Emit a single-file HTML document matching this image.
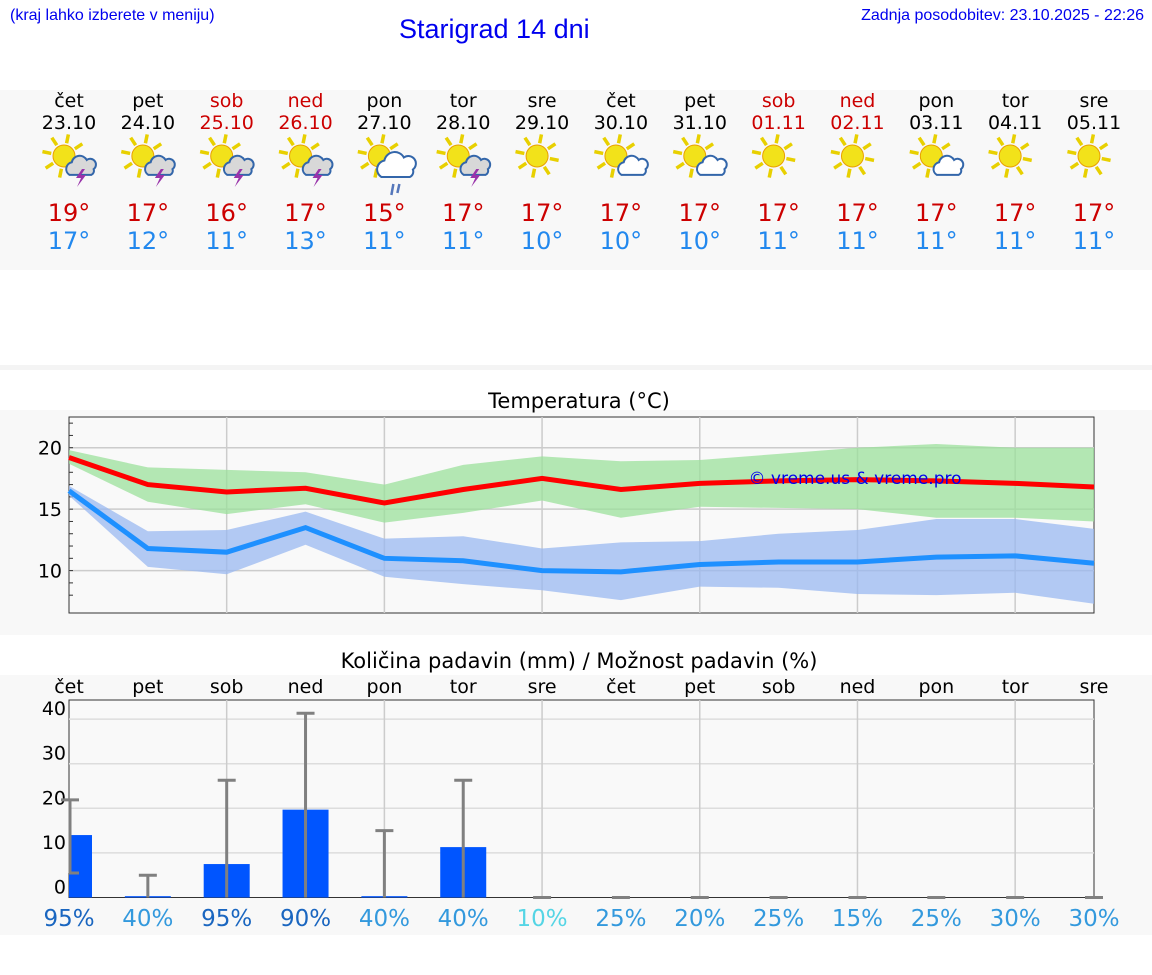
<!DOCTYPE html>
<html><head><meta charset="utf-8"><style>
body{margin:0;width:1152px;height:975px;background:#fff;font-family:"DejaVu Sans","Liberation Sans",sans-serif;position:relative;overflow:hidden}
.a{position:absolute}
</style></head><body>
<div class="a" style="left:10px;top:7px;font-size:16px;color:#0000ee;font-family:'Liberation Sans',sans-serif">(kraj lahko izberete v meniju)</div>
<div class="a" style="left:399px;top:14px;font-size:27px;color:#0000ee;font-family:'Liberation Sans',sans-serif">Starigrad 14 dni</div>
<div class="a" style="right:8px;top:7px;font-size:16px;color:#0000ee;font-family:'Liberation Sans',sans-serif">Zadnja posodobitev: 23.10.2025 - 22:26</div>
<div class="a" style="left:0;top:90px;width:1152px;height:180px;background:#f8f8f8"></div>
<div class="a" style="left:0;top:365px;width:1152px;height:5px;background:#f4f4f4"></div>
<div class="a" style="left:0;top:410px;width:1152px;height:225px;background:#f8f8f8"></div>
<div class="a" style="left:0;top:675px;width:1152px;height:260px;background:#f8f8f8"></div>
<svg class="a" style="left:0;top:0" width="1152" height="975" id="svg"></svg>
<script>
const days=["čet","pet","sob","ned","pon","tor","sre","čet","pet","sob","ned","pon","tor","sre"];
const dates=["23.10","24.10","25.10","26.10","27.10","28.10","29.10","30.10","31.10","01.11","02.11","03.11","04.11","05.11"];
const weekend=[0,0,1,1,0,0,0,0,0,1,1,0,0,0];
const icons=["storm","storm","storm","storm","rain","storm","sun","cloud","cloud","sun","sun","cloud","sun","sun"];
const tmax=[19,17,16,17,15,17,17,17,17,17,17,17,17,17];
const tmin=[17,12,11,13,11,11,10,10,10,11,11,11,11,11];
const maxLine=[19.2,17,16.4,16.7,15.5,16.6,17.5,16.6,17.1,17.3,17.4,17.3,17.1,16.8];
const maxLo=[18.7,15.6,14.6,15.4,13.9,14.7,15.7,14.3,15.2,15.1,15.0,14.3,14.3,14.0];
const maxHi=[19.8,18.4,18.2,18.0,17.0,18.6,19.3,18.9,19.0,19.5,20.0,20.3,20.0,20.0];
const minLine=[16.5,11.8,11.5,13.5,11.0,10.8,10.0,9.9,10.5,10.7,10.7,11.1,11.2,10.6];
const minLo=[16.1,10.3,9.7,12.1,9.5,8.9,8.4,7.6,8.7,8.6,8.1,8.0,8.2,7.3];
const minHi=[16.9,13.2,13.3,14.8,12.6,12.8,11.8,12.3,12.4,13.0,13.3,14.2,14.2,13.4];
const precip=[14,0.3,7.5,19.7,0.3,11.3,0,0,0,0,0,0,0,0];
const errLo=[5.5,0,0,0,0,0,0,0,0,0,0,0,0,0];
const errHi=[21.9,5,26.3,41.3,15,26.3,0,0,0,0,0,0,0,0];
const prob=[95,40,95,90,40,40,10,25,20,25,15,25,30,30];
const tTicks=[10,15,20];
const pTicks=[0,10,20,30,40];
const NS="http://www.w3.org/2000/svg";
const svg=document.getElementById('svg');
function el(t,a,p){const e=document.createElementNS(NS,t);for(const k in a)e.setAttribute(k,a[k]);(p||svg).appendChild(e);return e;}
function txt(x,y,s,size,fill,anchor,name){const e=el('text',{x:x,y:y,'font-size':size,fill:fill,'text-anchor':anchor||'middle','font-family':'DejaVu Sans, Liberation Sans, sans-serif'});e.textContent=s;


return e;}
const X0=69,X1=1094;
const xs=i=>X0+i*(X1-X0)/(days.length-1);
days.forEach((d,i)=>{const x=xs(i);const c=weekend[i]?'#cc0000':'#000';
txt(x,107,d,19,c,'middle','day-label');txt(x,129,dates[i],19,c,'middle','date-label');
txt(x,221,tmax[i]+'°',24,'#cc0000','middle','max-temp');txt(x,249,tmin[i]+'°',24,'#2288ee','middle','min-temp');
const g=el('g',{});
const sx=x-5,sy=156;
for(let k=0;k<8;k++){const a=k*Math.PI/4+0.2;el('line',{x1:sx+Math.cos(a)*13,y1:sy+Math.sin(a)*13,x2:sx+Math.cos(a)*22,y2:sy+Math.sin(a)*22,stroke:'#e8d000','stroke-width':3.5},g);}
el('circle',{cx:sx,cy:sy,r:11,fill:'#f2e21a',stroke:'#e8a000','stroke-width':1},g);
if(icons[i]!='sun'){const cx=x+12,cy=168;const big=icons[i]=='rain';const s=big?1.5:1.15;
el('path',{d:`M${cx-10*s} ${cy+6*s} a${6*s} ${6*s} 0 0 1 ${2*s} ${-11*s} a${7*s} ${7*s} 0 0 1 ${13*s} ${-2*s} a${5*s} ${5*s} 0 0 1 ${6*s} ${8*s} a${4*s} ${4*s} 0 0 1 ${-2*s} ${5*s} z`,fill:icons[i]=='storm'?'#d8d8d8':'#fff',stroke:'#3366aa','stroke-width':2},g);
if(icons[i]=='storm')el('path',{d:`M${cx+1} ${cy+1} l-6 9 h5 l-4 9 l9 -12 h-5 l4 -6z`,fill:'#9933aa'},g);
if(big){el('line',{x1:cx-3,y1:cy+16,x2:cx-5,y2:cy+27,stroke:'#5577bb','stroke-width':2.5},g);el('line',{x1:cx+3,y1:cy+16,x2:cx+1,y2:cy+25,stroke:'#5577bb','stroke-width':2.5},g);}}
});
txt(579,408,'Temperatura (°C)',21,'#000','middle','temp-chart-title');
const TY0=417,TY1=613,tmn=6.55,tmx=22.5;
const ty=v=>TY1-(v-tmn)/(tmx-tmn)*(TY1-TY0);
el('rect',{x:X0,y:TY0,width:X1-X0,height:TY1-TY0,fill:'#f9f9f9',stroke:'#333','stroke-width':1});
tTicks.forEach(t=>{el('line',{x1:X0,x2:X1,y1:ty(t),y2:ty(t),stroke:'#ccc','stroke-width':1.5});txt(62,ty(t)+7,String(t),19,'#000','end','temp-y-tick');});
for(let v=8;v<=22;v++)el('line',{x1:X0,x2:X0+4,y1:ty(v),y2:ty(v),stroke:'#333'});
for(let i=2;i<14;i+=2)el('line',{x1:xs(i),x2:xs(i),y1:TY0,y2:TY1,stroke:'#ccc','stroke-width':1.5});
function band(lo,hi,fill,name){let d='M'+lo.map((v,i)=>xs(i)+' '+ty(v)).join('L')+'L'+hi.map((v,i)=>xs(i)+' '+ty(v)).reverse().join('L')+'Z';const p=el('path',{d:d,fill:fill,'fill-opacity':0.75});

}
function line(v,c,name){const p=el('polyline',{points:v.map((y,i)=>xs(i)+','+ty(y)).join(' '),fill:'none',stroke:c,'stroke-width':5});

}
band(maxLo,maxHi,'#9be09b','max-temp-band');band(minLo,minHi,'#9ab8f0','min-temp-band');
line(maxLine,'#ff0000','max-temp-line');line(minLine,'#1e90ff','min-temp-line');
txt(855,484,'© vreme.us & vreme.pro',17,'#0000ee','middle','watermark');
txt(579,668,'Količina padavin (mm) / Možnost padavin (%)',21,'#000','middle','precip-chart-title');
const PY0=700,PY1=897.5;
const py=v=>PY1-v*4.46;
el('rect',{x:X0,y:PY0,width:X1-X0,height:PY1-PY0,fill:'#f9f9f9',stroke:'#333','stroke-width':1});
pTicks.forEach(t=>{if(t>0)el('line',{x1:X0,x2:X1,y1:py(t),y2:py(t),stroke:'#ddd','stroke-width':1.5});txt(66,py(t)-4,String(t),19,'#000','end','precip-y-tick');});
for(let i=2;i<14;i+=2)el('line',{x1:xs(i),x2:xs(i),y1:PY0,y2:PY1,stroke:'#ccc','stroke-width':1.5});
const clip=el('clipPath',{id:'pc'});el('rect',{x:X0,y:PY0,width:X1-X0,height:PY1-PY0},clip);
precip.forEach((v,i)=>{const x=xs(i);
const r=el('rect',{x:x-23,y:py(v),width:46,height:PY1-py(v),fill:'#0055ff','clip-path':'url(#pc)'});


const ex=i==0?X0+1:x;
el('line',{x1:ex,x2:ex,y1:py(errLo[i]),y2:py(errHi[i]),stroke:'#808080','stroke-width':3});
el('line',{x1:ex-9,x2:ex+9,y1:py(errHi[i]),y2:py(errHi[i]),stroke:'#808080','stroke-width':3});
if(errLo[i]>0)el('line',{x1:ex-9,x2:ex+9,y1:py(errLo[i]),y2:py(errLo[i]),stroke:'#808080','stroke-width':3,'clip-path':'url(#pc)'});
txt(x,693,days[i],19,'#000','middle','precip-day-label');
const c=prob[i]>=90?'#1a66c0':prob[i]>=15?'#3399dd':'#55d5e5';
txt(x,926,prob[i]+'%',23,c,'middle','precip-probability');
});
</script>
</body></html>
